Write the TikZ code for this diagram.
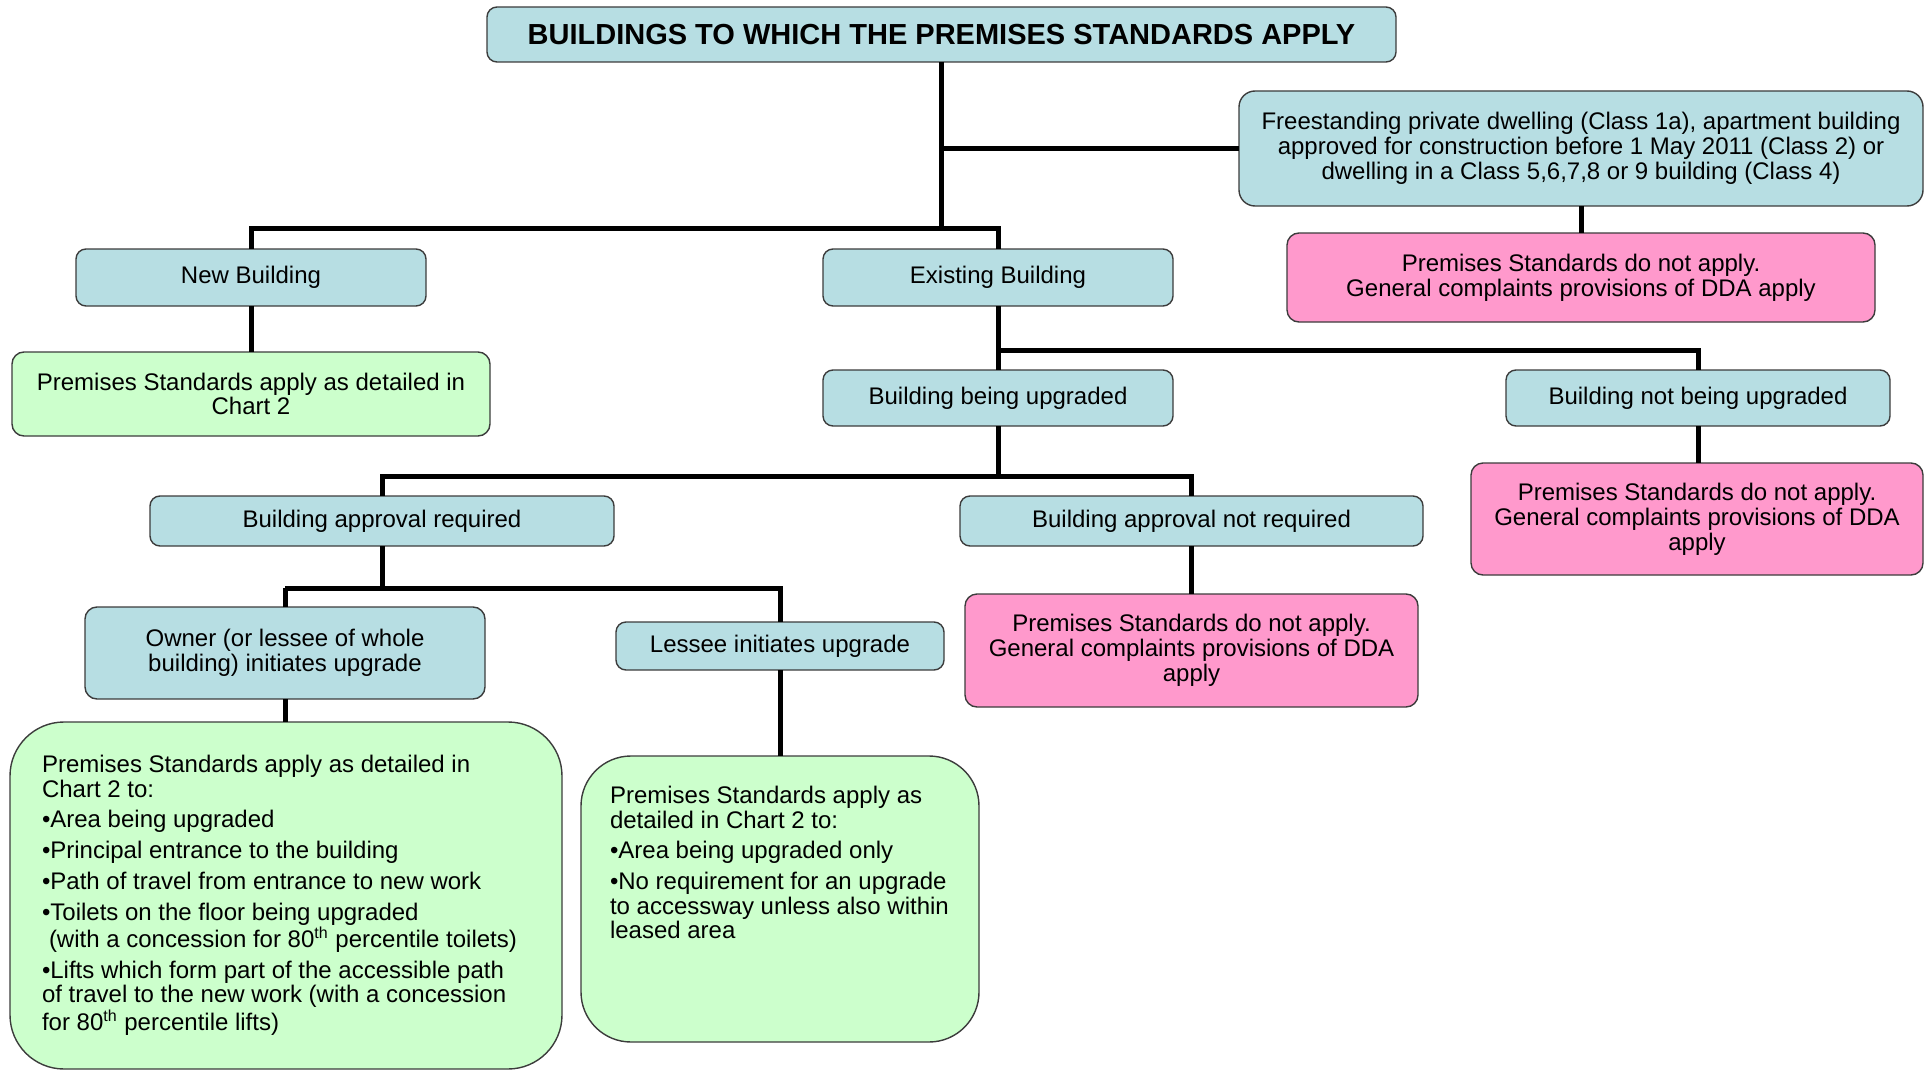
\documentclass[tikz,border=0pt]{standalone}
\usepackage{fontspec}
\setmainfont{Liberation Sans}
\definecolor{boxblue}{HTML}{B7DEE3}
\definecolor{boxpink}{HTML}{FF99CC}
\definecolor{boxgreen}{HTML}{CCFFCC}
\definecolor{edge}{HTML}{3C3C3C}
\begin{document}
\begin{tikzpicture}[x=0.5pt,y=-0.5pt,
  base/.style={draw=edge, line width=0.7pt, inner sep=0pt, outer sep=0pt, align=center,
    font=\fontsize{12}{12.4}\selectfont, rounded corners=5pt},
  bluebox/.style={base, fill=boxblue},
  pinkbox/.style={base, fill=boxpink, rounded corners=6pt},
  greenbox/.style={base, fill=boxgreen},
  biggreen/.style={base, fill=boxgreen, rounded corners=27pt},
  bodytext/.style={inner sep=0pt, outer sep=0pt, align=left, anchor=north west,
    font=\fontsize{12}{12.3}\selectfont},
  conn/.style={line width=2.5pt, black}
]
\useasboundingbox (0,0) rectangle (1932,1070);

% boxes
\node[bluebox, minimum width=454.5pt, minimum height=27.5pt, font=\fontsize{14.5}{16}\selectfont\bfseries] (title) at (941.5,34.5) {\raisebox{-1pt}{BUILDINGS TO WHICH THE PREMISES STANDARDS APPLY}};
\node[bluebox, rounded corners=8pt, minimum width=342pt, minimum height=57.5pt] (free) at (1581,148.5)
  {Freestanding private dwelling (Class 1a), apartment building\\approved for construction before 1 May 2011 (Class 2) or\\dwelling in a Class 5,6,7,8 or 9 building (Class 4)};
\node[pinkbox, minimum width=294pt, minimum height=44.5pt] (pink1) at (1581,277.5)
  {Premises Standards do not apply.\\General complaints provisions of DDA apply};
\node[bluebox, minimum width=175pt, minimum height=28.5pt] (newb) at (251,277.5) {New Building};
\node[bluebox, minimum width=175pt, minimum height=28.5pt] (exist) at (998,277.5) {Existing Building};
\node[greenbox, rounded corners=6pt, minimum width=239pt, minimum height=42pt] (green1) at (251,394)
  {Premises Standards apply as detailed in\\Chart 2};
\node[bluebox, minimum width=175pt, minimum height=28pt] (upg) at (998,398) {Building being upgraded};
\node[bluebox, minimum width=192pt, minimum height=28pt] (notupg) at (1698,398) {Building not being upgraded};
\node[pinkbox, minimum width=226pt, minimum height=56pt] (pink3) at (1697,519)
  {Premises Standards do not apply.\\General complaints provisions of DDA\\apply};
\node[bluebox, minimum width=232pt, minimum height=25pt] (appr) at (382,521) {Building approval required};
\node[bluebox, minimum width=231.5pt, minimum height=25pt] (nappr) at (1191.5,521) {Building approval not required};
\node[pinkbox, minimum width=226.5pt, minimum height=56.5pt] (pink2) at (1191.5,650.5)
  {Premises Standards do not apply.\\General complaints provisions of DDA\\apply};
\node[bluebox, rounded corners=6pt, minimum width=200pt, minimum height=46pt] (owner) at (285,653)
  {Owner (or lessee of whole\\building) initiates upgrade};
\node[bluebox, minimum width=164pt, minimum height=24pt] (lessee) at (780,646) {Lessee initiates upgrade};
\node[biggreen, minimum width=276pt, minimum height=173.5pt] (big) at (286,895.5) {};
\node[biggreen, rounded corners=25pt, minimum width=199pt, minimum height=143pt] (green2) at (780,899) {};

% texts of the large boxes
\node[bodytext] (bigtext) at (42,755) {%
Premises Standards apply as detailed in\\
Chart 2 to:\\[3.1pt]
•Area being upgraded\\[3.1pt]
•Principal entrance to the building\\[3.1pt]
•Path of travel from entrance to new work\\[3.1pt]
•Toilets on the floor being upgraded\\
\hspace*{3.5pt}(with a concession for 80\textsuperscript{th} percentile toilets)\\[3.1pt]
•Lifts which form part of the accessible path\\
of travel to the new work (with a concession\\
for 80\textsuperscript{th} percentile lifts)};
\node[bodytext] (g2text) at (610,786) {%
Premises Standards apply as\\
detailed in Chart 2 to:\\[3.1pt]
•Area being upgraded only\\[3.1pt]
•No requirement for an upgrade\\
to accessway unless also within\\
leased area};

% junctions
\coordinate (j1) at (941.5,228);
\coordinate (j2) at (998,350);
\coordinate (j3) at (998,476);
\coordinate (j4) at (382,588);

% connectors
\draw[conn] (title.south) -- (j1);
\draw[conn] (title.south |- free.west) -- (free.west);
\draw[conn] (newb.north) |- (j1) -| (exist.north);
\draw[conn] (free.south) -- (pink1.north);
\draw[conn] (newb.south) -- (green1.north);
\draw[conn] (exist.south) -- (upg.north);
\draw[conn] (j2) -| (notupg.north);
\draw[conn] (notupg.south) -- (notupg.south |- pink3.north);
\draw[conn] (upg.south) -- (j3);
\draw[conn] (appr.north) |- (j3) -| (nappr.north);
\draw[conn] (nappr.south) -- (pink2.north);
\draw[conn] (appr.south) -- (j4);
\draw[conn] (owner.north |- j4) -| (lessee.north);
\draw[conn] (owner.north) -- (owner.north |- j4);
\draw[conn] (owner.south) -- (owner.south |- big.north);
\draw[conn] (lessee.south) -- (green2.north);
\end{tikzpicture}
\end{document}
